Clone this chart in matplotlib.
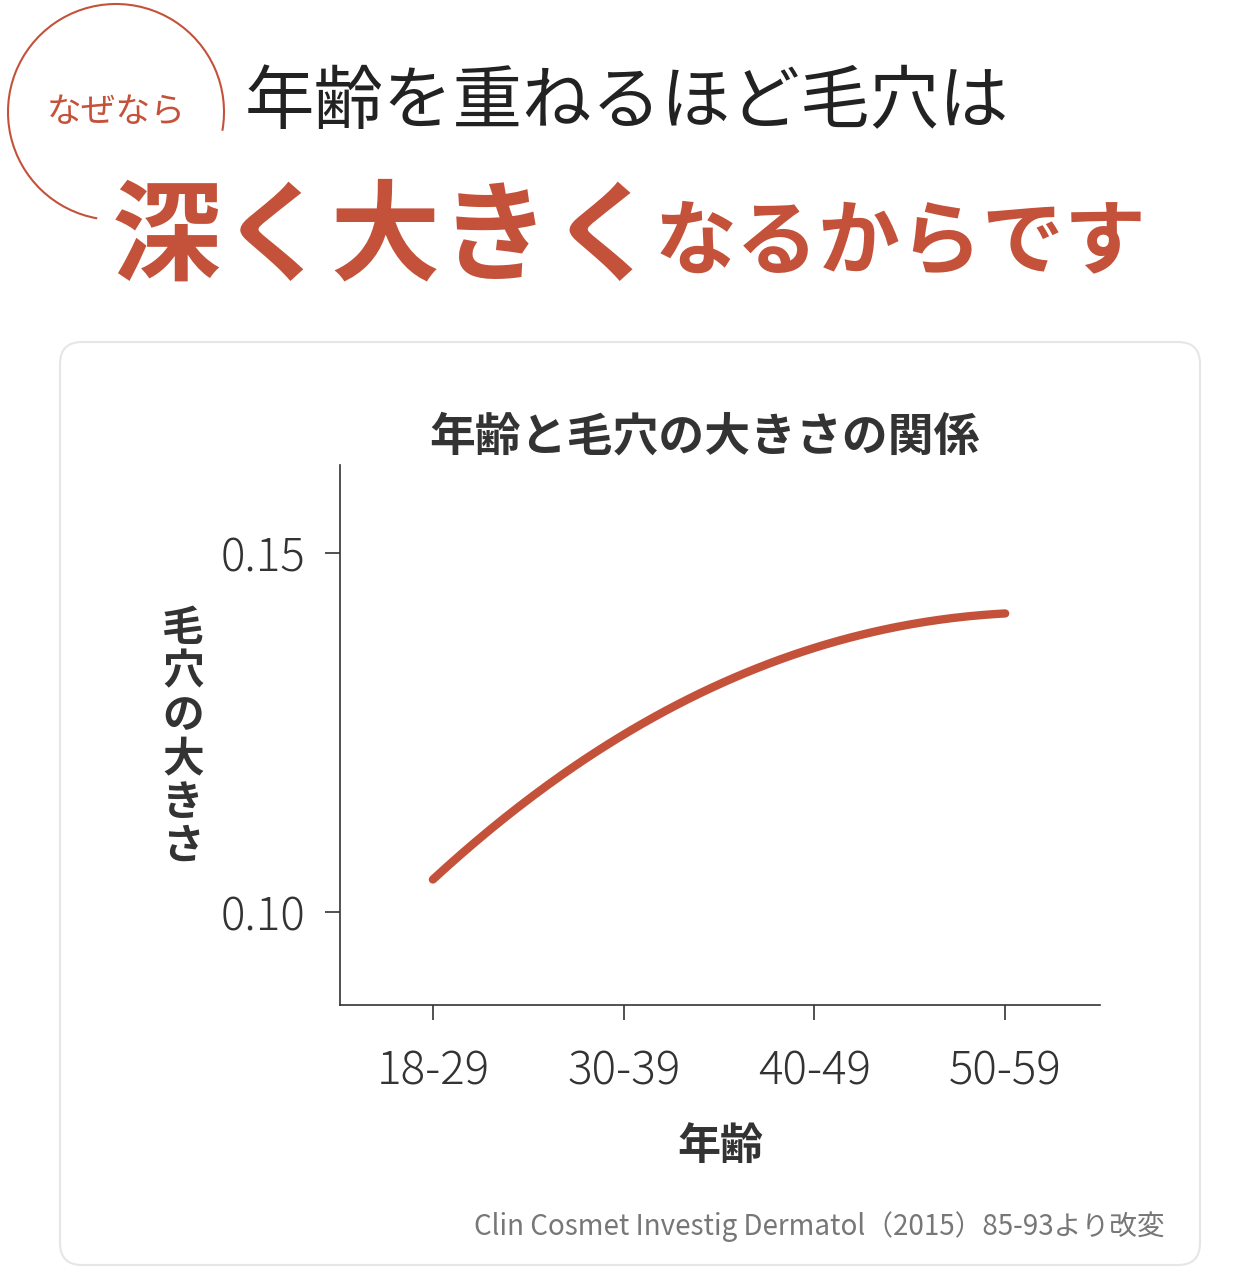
import numpy as np
import matplotlib
matplotlib.use("Agg")
import matplotlib.pyplot as plt
from matplotlib.patches import Arc, FancyBboxPatch

plt.rcParams['font.family'] = ['Noto Sans CJK JP', 'DejaVu Sans']

categories = ["18-29", "30-39", "40-49", "50-59"]
pore_size = [0.1045, 0.1247, 0.1368, 0.1416]
yticks = [0.10, 0.15]
ytick_labels = ["0.10", "0.15"]

RED = "#c4523a"
DARK = "#333333"

fig = plt.figure(figsize=(12.6, 12.84), dpi=100)
bg = fig.add_axes([0, 0, 1, 1])
bg.set_xlim(0, 1260); bg.set_ylim(1284, 0); bg.axis("off")

bg.add_patch(FancyBboxPatch((60, 342), 1140, 923, boxstyle="round,pad=0,rounding_size=22",
                            fc="white", ec="#e6e6e6", lw=1.5))
bg.add_patch(Arc((116, 112), 216, 216, theta1=100, theta2=370, color=RED, lw=1.5))
bg.text(116, 112, "なぜなら", color=RED, fontsize=25, ha="center", va="center")
bg.text(245, 103, "年齢を重ねるほど毛穴は", color="#222222", fontsize=50, ha="left", va="center")
bg.text(112, 272, "深く大きく", color=RED, fontsize=79, fontweight="bold", ha="left", va="baseline")
bg.text(655, 268, "なるからです", color=RED, fontsize=59, fontweight="bold", ha="left", va="baseline")
bg.text(705, 438, "年齢と毛穴の大きさの関係", color=DARK, fontsize=33, fontweight="bold", ha="center", va="center")
bg.text(183, 738, "\n".join("毛穴の大きさ"), color=DARK, fontsize=30, fontweight="bold",
        ha="center", va="center", linespacing=1.05)
bg.text(720, 1146, "年齢", color=DARK, fontsize=31, fontweight="bold", ha="center", va="center")
bg.text(1165, 1227, "Clin Cosmet Investig Dermatol（2015）85-93より改変", color="#777777",
        fontsize=20, ha="right", va="center")

ax = fig.add_axes([340/1260, 1-1005/1284, 760/1260, 540/1284])
ax.patch.set_alpha(0)
x = np.arange(len(categories))
coef = np.polyfit(x, pore_size, 3)
xs = np.linspace(0, 3, 200)
ax.plot(xs, np.polyval(coef, xs), color=RED, lw=6, solid_capstyle="round")
ax.set_xlim(-0.487, 3.497)
ax.set_ylim(0.087, 0.1623)
ax.set_xticks(x); ax.set_xticklabels(categories)
ax.set_yticks(yticks); ax.set_yticklabels(ytick_labels)
for s in ["top", "right"]:
    ax.spines[s].set_visible(False)
for s in ["left", "bottom"]:
    ax.spines[s].set_color(DARK); ax.spines[s].set_linewidth(1.2)
ax.tick_params(direction="out", length=11, width=1.2, color=DARK, labelcolor=DARK,
               labelsize=33, pad=14)
ax.tick_params(axis="x", pad=20)
for t in ax.get_xticklabels() + ax.get_yticklabels():
    t.set_fontweight("light")

fig.savefig("out.png", dpi=100, facecolor="white")
